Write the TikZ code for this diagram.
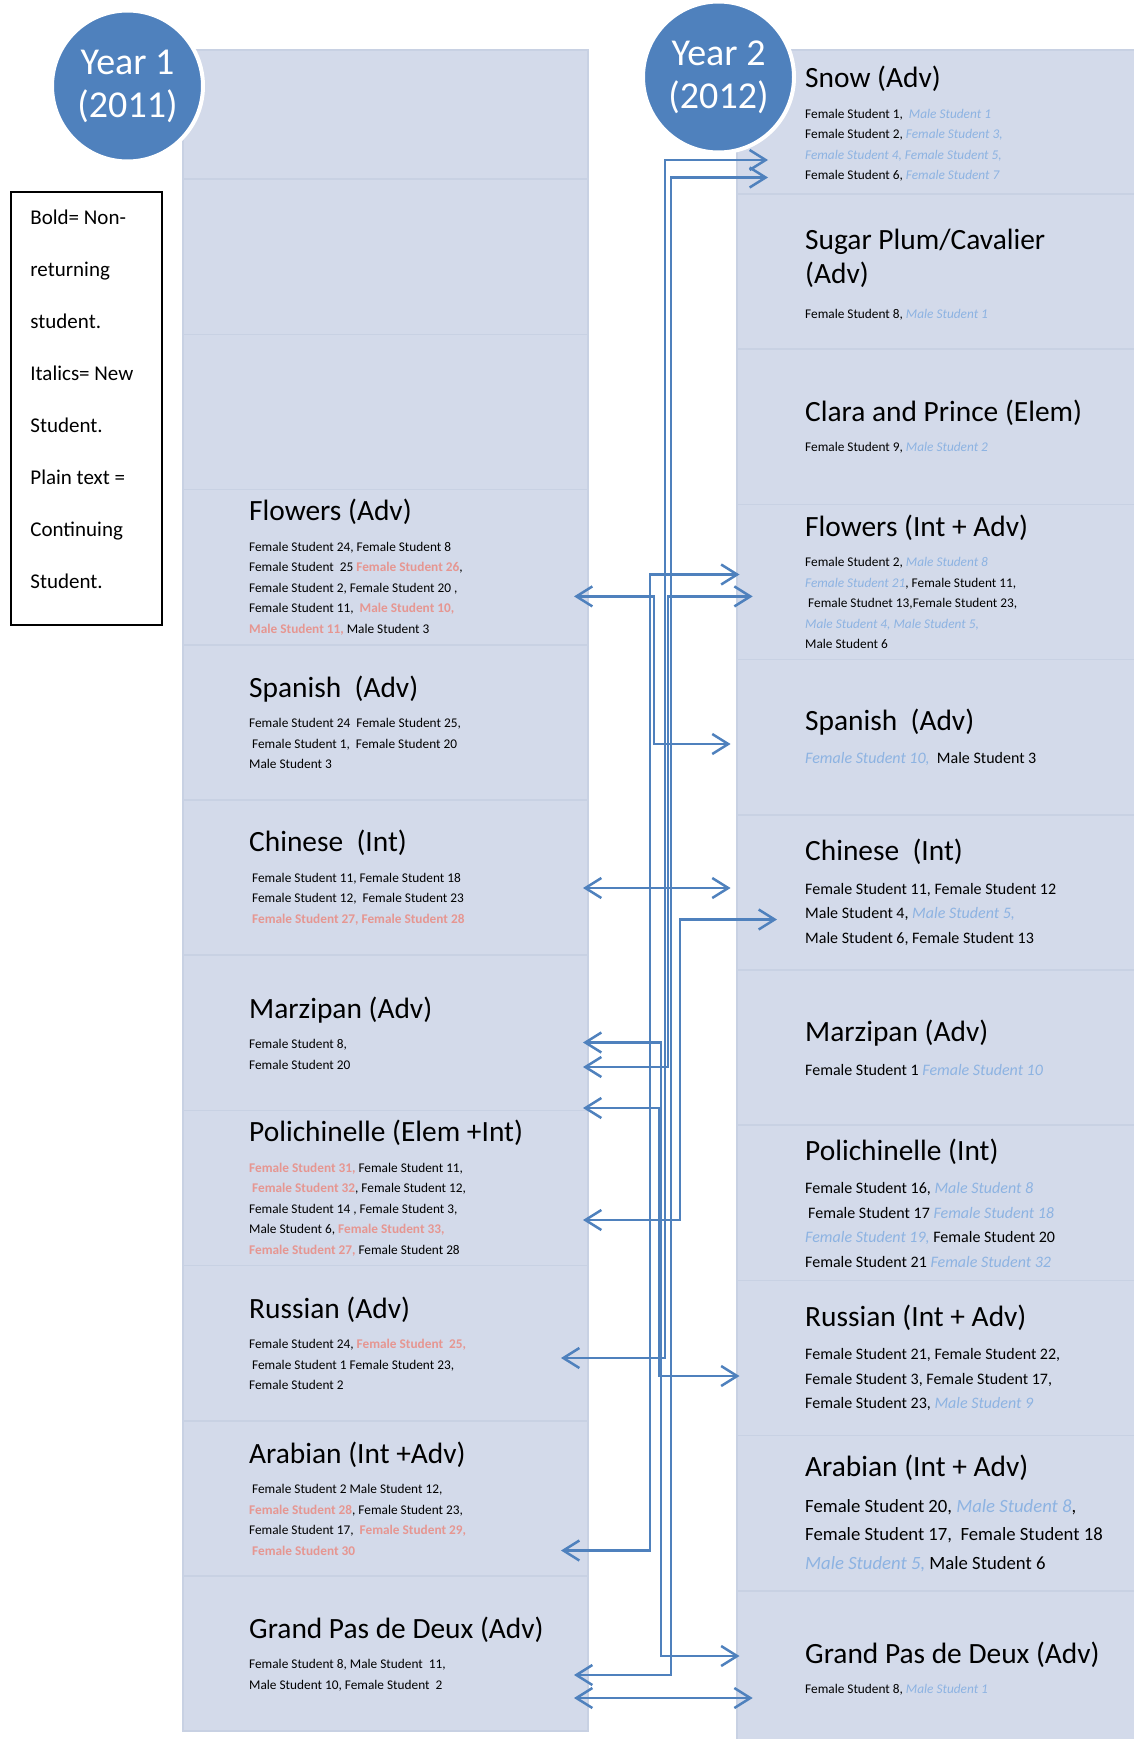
\documentclass[tikz,border=0pt]{standalone}
\usepackage{fontspec}
\setmainfont{Carlito}
\usetikzlibrary{arrows.meta, positioning}

\definecolor{rowfill}{RGB}{211,218,234}
\definecolor{rowline}{RGB}{200,209,227}
\definecolor{circblue}{RGB}{79,129,189}
\definecolor{linkblue}{RGB}{79,129,189}
\definecolor{newblue}{RGB}{141,179,226}
\definecolor{gonered}{RGB}{230,150,145}

\newcommand{\ttl}[1]{{\fontsize{29.4}{35}\selectfont #1}}
\newcommand{\nw}[1]{\textcolor{newblue}{\textit{#1}}}
\newcommand{\gone}[1]{\textcolor{gonered}{\textbf{#1}}}

\begin{document}
\begin{tikzpicture}[x=1pt, y=-1pt,
        lrow/.style={rectangle, fill=rowfill, draw=rowline, line width=1.5pt, outer sep=0pt, minimum width=405pt, minimum height=155.2pt, inner sep=0pt},
        rrow/.style={lrow, minimum width=400pt},
        item/.style={align=left, inner sep=0pt, font=\fontsize{13.3}{20.5}\selectfont},
        itemm/.style={item, font=\fontsize{16}{24.5}\selectfont},
        iteml/.style={item, font=\fontsize{18.7}{28.3}\selectfont},
        year/.style={circle, fill=circblue, draw=white, line width=4pt, minimum size=151pt, inner sep=0pt, text=white, align=center, font=\fontsize{38}{43}\selectfont},
        keybox/.style={rectangle, draw=black, line width=1.6pt, minimum width=151pt, minimum height=433pt},
        keytext/.style={align=left, inner sep=0pt, font=\fontsize{21}{52}\selectfont},
        link/.style={arrows={Straight Barb[length=16pt,width=20pt]-Straight Barb[length=16pt,width=20pt]}, line width=2.5pt, draw=linkblue}]

    \useasboundingbox (0,0) rectangle (1133,1739);

    % Year 1 column
    \node[lrow, minimum height=129.2pt] (y1r1) at (385.5,114.6) {};
    \foreach \i [count=\p from 1] in {2,...,11}
        \node[lrow, below=0pt of y1r\p] (y1r\i) {};

    % Year 2 column
    \node[rrow, minimum height=144pt] (y2r1) at (937,122) {};
    \foreach \i [count=\p from 1] in {2,...,11}
        \node[rrow, below=0pt of y2r\p] (y2r\i) {};

    % Key
    \node[keybox] (key) at (86.5,408.5) {};
    \node[keytext, below right=18.5pt and 20pt of key.north west] (keytxt) {Bold= Non-\\returning\\student.\\Italics= New\\Student.\\Plain text =\\Continuing\\Student.};

    % Year 1 dances
    \node[item, right=66pt of y1r4.west] (y1flowers) {\ttl{Flowers (Adv)}\\[10pt]
        Female Student 24, Female Student 8\\
        Female Student~ 25 \gone{Female Student 26},\\
        Female Student 2, Female Student 20 ,\\
        Female Student 11,~ \gone{Male Student 10,}\\
        \gone{Male Student 11,} Male Student 3};
    \node[item, right=66pt of y1r5.west] (y1spanish) {\ttl{Spanish~ (Adv)}\\[10pt]
        Female Student 24~ Female Student 25,\\
        \hspace{3pt}Female Student 1,~ Female Student 20\\
        Male Student 3};
    \node[item, right=66pt of y1r6.west] (y1chinese) {\ttl{Chinese~ (Int)}\\[10pt]
        \hspace{3pt}Female Student 11, Female Student 18\\
        \hspace{3pt}Female Student 12,~ Female Student 23\\
        \hspace{3pt}\gone{Female Student 27, Female Student 28}};
    \node[item, right=66pt of y1r7.west] (y1marzipan) {\ttl{Marzipan (Adv)}\\[10pt]
        Female Student 8,\\
        Female Student 20};
    \node[item, right=66pt of y1r8.west] (y1polich) {\ttl{Polichinelle (Elem +Int)}\\[10pt]
        \gone{Female Student 31,} Female Student 11,\\
        \hspace{3pt}\gone{Female Student 32}, Female Student 12,\\
        Female Student 14 , Female Student 3,\\
        Male Student 6, \gone{Female Student 33,}\\
        \gone{Female Student 27,} Female Student 28};
    \node[item, right=66pt of y1r9.west] (y1russian) {\ttl{Russian (Adv)}\\[10pt]
        Female Student 24, \gone{Female Student~ 25,}\\
        \hspace{3pt}Female Student 1 Female Student 23,\\
        Female Student 2};
    \node[item, right=66pt of y1r10.west] (y1arabian) {\ttl{Arabian (Int +Adv)}\\[10pt]
        \hspace{3pt}Female Student 2 Male Student 12,\\
        \gone{Female Student 28}, Female Student 23,\\
        Female Student 17,~ \gone{Female Student 29,}\\
        \hspace{3pt}\gone{Female Student 30}};
    \node[item, right=66pt of y1r11.west] (y1grandpas) {\ttl{Grand Pas de Deux (Adv)}\\[10pt]
        Female Student 8, Male Student~ 11,\\
        Male Student 10, Female Student~ 2};

    % Year 2 dances
    \node[item, right=68pt of y2r1.west, yshift=-2pt] (y2snow) {\ttl{Snow (Adv)}\\[10pt]
        Female Student 1,~ \nw{Male Student 1}\\
        Female Student 2, \nw{Female Student 3,}\\
        \nw{Female Student 4, Female Student 5,}\\
        Female Student 6, \nw{Female Student 7}};
    \node[item, right=68pt of y2r2.west, yshift=-3pt] (y2sugar) {\ttl{Sugar Plum/Cavalier}\\[7pt]
        \ttl{(Adv)}\\[14pt]
        Female Student 8, \nw{Male Student 1}};
    \node[item, right=68pt of y2r3.west] (y2clara) {\ttl{Clara and Prince (Elem)}\\[10pt]
        Female Student 9, \nw{Male Student 2}};
    \node[item, right=68pt of y2r4.west] (y2flowers) {\ttl{Flowers (Int + Adv)}\\[10pt]
        Female Student 2, \nw{Male Student 8}\\
        \nw{Female Student 21}, Female Student 11,\\
        \hspace{3pt}Female Studnet 13,Female Student 23,\\
        \nw{Male Student 4, Male Student 5,}\\
        Male Student 6};
    \node[itemm, right=68pt of y2r5.west] (y2spanish) {\ttl{Spanish~ (Adv)}\\[9pt]
        \nw{Female Student 10,}~ Male Student 3};
    \node[itemm, right=68pt of y2r6.west] (y2chinese) {\ttl{Chinese~ (Int)}\\[9pt]
        Female Student 11, Female Student 12\\
        Male Student 4, \nw{Male Student 5,}\\
        Male Student 6, Female Student 13};
    \node[itemm, right=68pt of y2r7.west] (y2marzipan) {\ttl{Marzipan (Adv)}\\[9pt]
        Female Student 1 \nw{Female Student 10}};
    \node[itemm, right=68pt of y2r8.west] (y2polich) {\ttl{Polichinelle (Int)}\\[9pt]
        Female Student 16, \nw{Male Student 8}\\
        \hspace{3pt}Female Student 17 \nw{Female Student 18}\\
        \nw{Female Student 19,} Female Student 20\\
        Female Student 21 \nw{Female Student 32}};
    \node[itemm, right=68pt of y2r9.west] (y2russian) {\ttl{Russian (Int + Adv)}\\[9pt]
        Female Student 21, Female Student 22,\\
        Female Student 3, Female Student 17,\\
        Female Student 23, \nw{Male Student 9}};
    \node[iteml, right=68pt of y2r10.west] (y2arabian) {\ttl{Arabian (Int + Adv)}\\[8pt]
        Female Student 20, \nw{Male Student 8},\\
        Female Student 17,~ Female Student 18\\
        \nw{Male Student 5,} Male Student 6};
    \node[item, right=68pt of y2r11.west] (y2grandpas) {\ttl{Grand Pas de Deux (Adv)}\\[10pt]
        Female Student 8, \nw{Male Student 1}};

    % Year badges
    \node[year] (year1) at (127.5,86) {Year 1\\(2011)};
    \node[year] (year2) at (718.5,77) {Year 2\\(2012)};

    % Arrow ends
    \coordinate (snowA) at (768,160);
    \coordinate (snowB) at (768,177.5);
    \coordinate (flwA) at (739.5,574.5);
    \coordinate (flwB) at (752.7,596.4);
    \coordinate (spnB) at (730.6,744);
    \coordinate (chnB) at (730.6,888);
    \coordinate (chnC) at (777,919.5);
    \coordinate (rusB) at (739.5,1376);
    \coordinate (gpdB) at (739.5,1656);
    \coordinate (gpdC) at (752.7,1698);
    \coordinate (flwL) at (574,596.4);
    \coordinate (chnL) at (583,888);
    \coordinate (mzpL1) at (583,1042.5);
    \coordinate (mzpL2) at (583,1067);
    \coordinate (polL1) at (583,1108);
    \coordinate (polL2) at (583,1220);
    \coordinate (rusL) at (561,1358);
    \coordinate (arbL) at (561,1550.5);
    \coordinate (gpdL1) at (574,1675);
    \coordinate (gpdL2) at (574,1698);

    % Moves between years
    \draw[link] (flwL) -- ++(80,0) |- (spnB);
    \draw[link] (flwA) -- ++(-89.5,0) |- (arbL);
    \draw[link] (chnL) -- (chnB);
    \draw[link] (chnC) -- ++(-97,0) |- (polL2);
    \draw[link] (snowB) -- ++(-97,0) |- (gpdL1);
    \draw[link] (snowA) -- ++(-103,0) |- (rusL);
    \draw[link] (flwB) -- ++(-84.5,0) |- (mzpL2);
    \draw[link] (mzpL1) -- ++(78,0) |- (gpdB);
    \draw[link] (polL1) -- ++(76,0) |- (rusB);
    \draw[link] (gpdL2) -- (gpdC);

\end{tikzpicture}
\end{document}
